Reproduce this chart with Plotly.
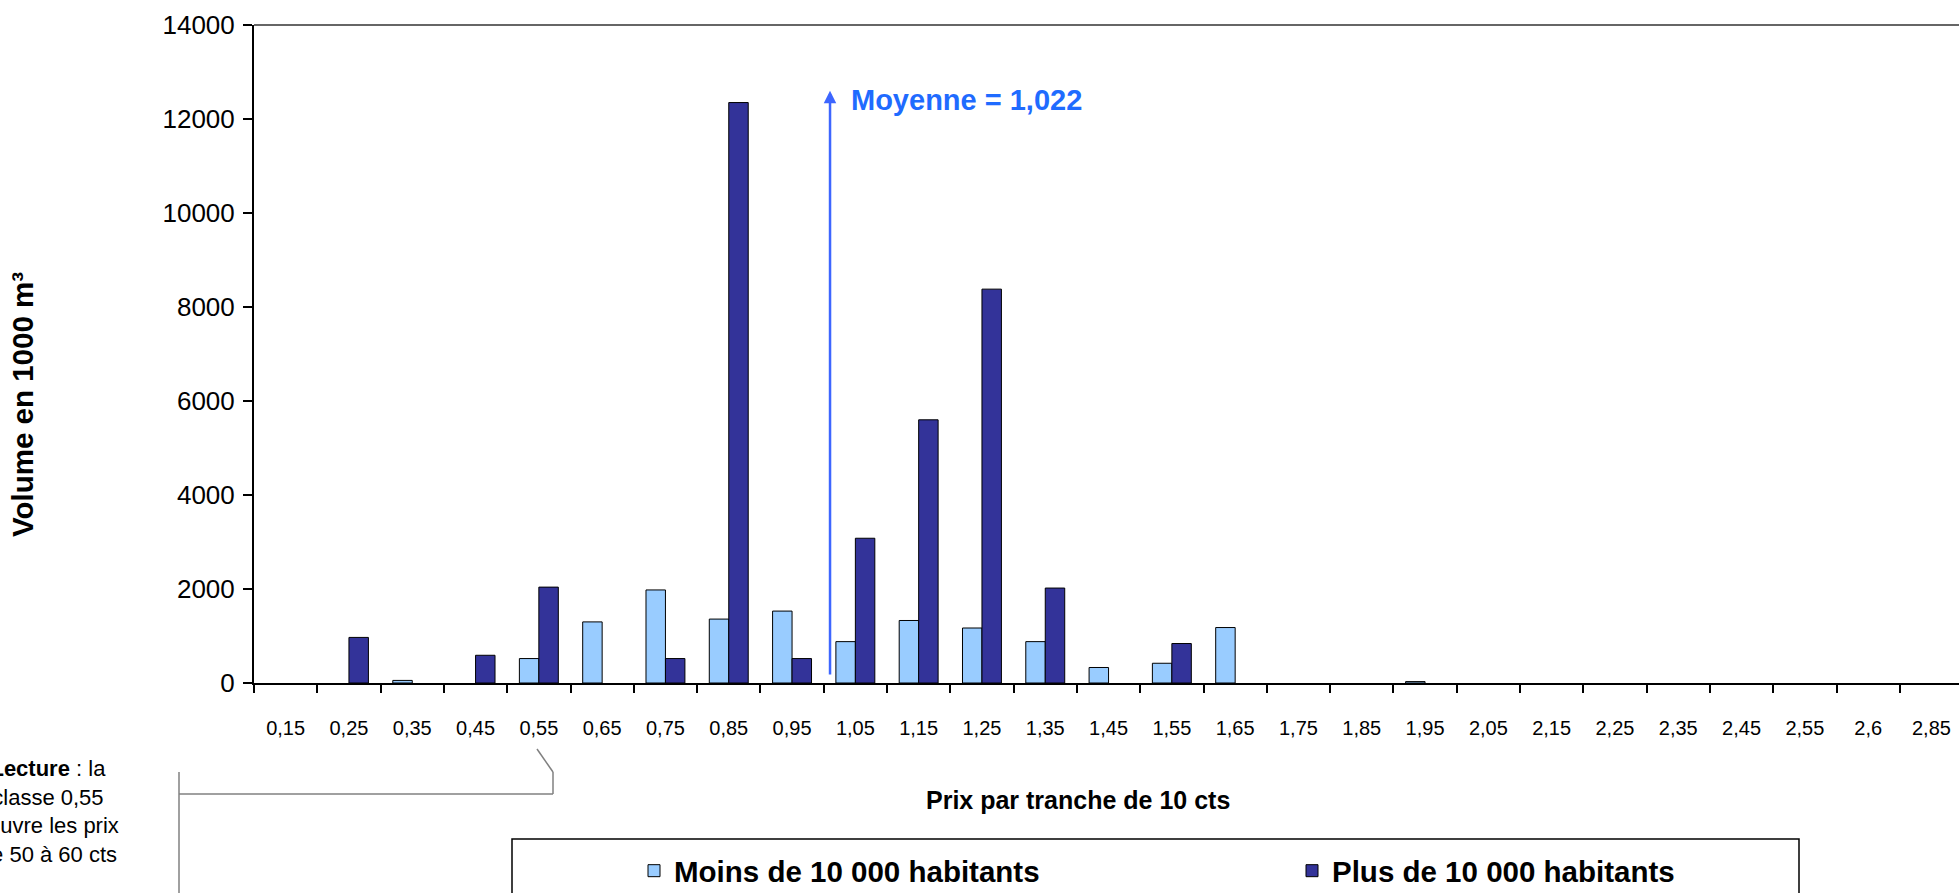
import plotly.graph_objects as go

# price classes (10 cts bands) and volumes in 1000 m3
price_classes = ["0,15", "0,25", "0,35", "0,45", "0,55", "0,65", "0,75", "0,85", "0,95",
                 "1,05", "1,15", "1,25", "1,35", "1,45", "1,55", "1,65", "1,75", "1,85",
                 "1,95", "2,05", "2,15", "2,25", "2,35", "2,45", "2,55", "2,6", "2,85"]
small_towns = [None, None, 55, None, 520, 1300, 1980, 1360, 1530,
               880, 1330, 1170, 880, 330, 420, 1180, None, None,
               30, None, None, None, None, None, None, None, None]
large_towns = [None, 970, None, 590, 2040, None, 520, 12350, 520,
               3080, 5600, 8380, 2020, None, 840, None, None, None,
               None, None, None, None, None, None, None, None, None]
y_ticks = [0, 2000, 4000, 6000, 8000, 10000, 12000, 14000]

mean_label = "Moyenne = 1,022"
mean_arrow_x = 8.6
mean_arrow_top = 12600
mean_arrow_bottom = 150

reading_note = ["<b>Lecture</b> : la", "classe 0,55", "couvre les prix", "de 50 à 60 cts"]

W, H = 1959, 893
L, T, B = 254, 25, 210
PW, PH = W - L, H - T - B
FONT = "Liberation Sans, Arial, sans-serif"


def px(x):
    return (x - L) / PW


def py(y):
    return (H - B - y) / PH


fig = go.Figure()
fig.add_trace(go.Bar(
    x=price_classes, y=small_towns, name="<b>Moins de 10 000 habitants</b>",
    marker={"color": "#99CCFF", "line": {"color": "#000000", "width": 1}},
))
fig.add_trace(go.Bar(
    x=price_classes, y=large_towns, name="<b>Plus de 10 000 habitants</b>",
    marker={"color": "#333399", "line": {"color": "#000000", "width": 1}},
))

fig.add_annotation(
    x=mean_arrow_x, y=mean_arrow_top, ax=mean_arrow_x, ay=mean_arrow_bottom,
    xref="x", yref="y", axref="x", ayref="y", text="", showarrow=True,
    arrowhead=2, arrowsize=1, arrowwidth=2.5, arrowcolor="#3D66FF",
)
fig.add_annotation(
    x=px(849), y=py(100), xref="paper", yref="paper",
    xanchor="left", yanchor="middle",
    text="<b>" + mean_label + "</b>", showarrow=False,
    font={"size": 29, "color": "#1F6BFF", "family": FONT},
)
fig.add_annotation(
    x=px(1078), y=py(800), xref="paper", yref="paper",
    xanchor="center", yanchor="middle",
    text="<b>Prix par tranche de 10 cts</b>", showarrow=False,
    font={"size": 25, "color": "#000000", "family": FONT},
)
fig.add_annotation(
    x=px(22), y=py(405), xref="paper", yref="paper", textangle=-90,
    xanchor="center", yanchor="middle",
    text="<b>Volume en 1000 m³</b>", showarrow=False,
    font={"size": 29.5, "color": "#000000", "family": FONT},
)
# reading note, partly cut by the left edge as in the source
fig.add_annotation(
    x=px(48), y=py(811), xref="paper", yref="paper",
    xanchor="center", yanchor="middle", align="center", showarrow=False,
    text="<br>".join(reading_note),
    font={"size": 22, "color": "#000000", "family": FONT},
)

grey = {"color": "#808080", "width": 1.5}
for x0, y0, x1, y1 in [(179, 772, 179, 900), (179, 794, 553, 794),
                       (553, 794, 553, 772), (553, 772, 537, 749)]:
    fig.add_shape(type="line", xref="paper", yref="paper",
                  x0=px(x0), y0=py(y0), x1=px(x1), y1=py(y1), line=grey)
fig.add_shape(type="rect", xref="paper", yref="paper",
              x0=px(512), y0=py(839), x1=px(1799), y1=py(905),
              line={"color": "#000000", "width": 1.5})
fig.add_shape(type="line", xref="paper", yref="paper", x0=0, x1=1, y0=1, y1=1,
              line={"color": "#333333", "width": 1.5})

fig.update_layout(
    width=W, height=H,
    margin={"l": L, "r": 0, "t": T, "b": B},
    paper_bgcolor="white", plot_bgcolor="white",
    barmode="group", bargap=0.385, bargroupgap=0,
    font={"family": FONT, "color": "#000000"},
    showlegend=True,
    legend={
        "orientation": "h", "xref": "container", "yref": "container",
        "x": 634 / W, "y": 1 - 871 / H, "yanchor": "middle", "xanchor": "left",
        "entrywidth": 613, "entrywidthmode": "pixels",
        "font": {"size": 29.5, "family": FONT, "color": "#000000"},
        "bgcolor": "rgba(0,0,0,0)", "traceorder": "normal",
    },
    xaxis={
        "type": "category", "range": [-0.5, 26.435],
        "showline": True, "linecolor": "#000000", "linewidth": 2,
        "ticks": "outside", "tickson": "boundaries", "ticklen": 8,
        "tickcolor": "#000000", "tickwidth": 1.5,
        "tickfont": {"size": 20}, "ticklabelstandoff": 26,
        "showgrid": False, "zeroline": False,
    },
    yaxis={
        "range": [0, 14000], "tickvals": y_ticks, "tickformat": "d",
        "showline": True, "linecolor": "#000000", "linewidth": 2,
        "ticks": "outside", "ticklen": 9, "tickcolor": "#000000", "tickwidth": 1.5,
        "tickfont": {"size": 26}, "ticklabelstandoff": 3,
        "showgrid": False, "zeroline": False,
    },
)

# the page body has an 8px default margin; drop it so the figure fills the window
fig.write_html(
    "out.html",
    config={"displayModeBar": False},
    post_script="document.body.style.margin = '0';",
)
